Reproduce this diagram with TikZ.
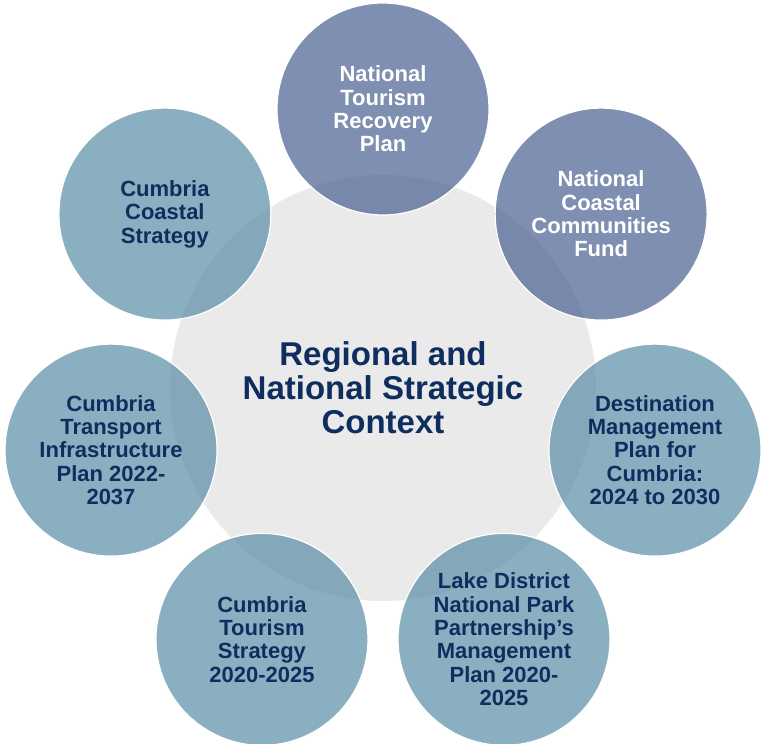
\documentclass[tikz,border=0pt]{standalone}
\usepackage{fontspec}
\setmainfont{Liberation Sans}
\definecolor{navytext}{RGB}{15,46,95}
\definecolor{centergray}{RGB}{234,234,234}
\definecolor{nationalblue}{RGB}{72,95,144}
\definecolor{regionalblue}{RGB}{89,141,166}
\begin{document}
\begin{tikzpicture}[
    x=1pt, y=1pt,
    hub/.style={circle, fill=centergray, minimum size=426pt, align=center,
        text=navytext, font=\bfseries\fontsize{33}{34}\selectfont},
    plan/.style={circle, draw=white, line width=1.2pt, fill opacity=0.7,
        text opacity=1, minimum size=212pt, align=center,
        font=\bfseries\fontsize{22}{23.3}\selectfont},
    national/.style={plan, fill=nationalblue, text=white},
    regional/.style={plan, fill=regionalblue, text=navytext}
]
    \useasboundingbox (-383,-356) rectangle (380,388);

    % Centre
    \node[hub] (context) at (0,0) {Regional and\\National Strategic\\Context};

    % National plans
    \node[national] (recovery) at (90:279) {National\\Tourism\\Recovery\\Plan};
    \node[national] (coastalfund) at (38.57:279) {National\\Coastal\\Communities\\Fund};

    % Regional plans
    \node[regional] (destination) at (-12.86:279) {Destination\\Management\\Plan for\\Cumbria:\\2024 to 2030};
    \node[regional] (lakedistrict) at (-64.29:279) {Lake District\\National Park\\Partnership’s\\Management\\Plan 2020-\\2025};
    \node[regional] (tourism) at (-115.71:279) {Cumbria\\Tourism\\Strategy\\2020-2025};
    \node[regional] (transport) at (-167.14:279) {Cumbria\\Transport\\Infrastructure\\Plan 2022-\\2037};
    \node[regional] (coastal) at (141.43:279) {Cumbria\\Coastal\\Strategy};
\end{tikzpicture}
\end{document}
